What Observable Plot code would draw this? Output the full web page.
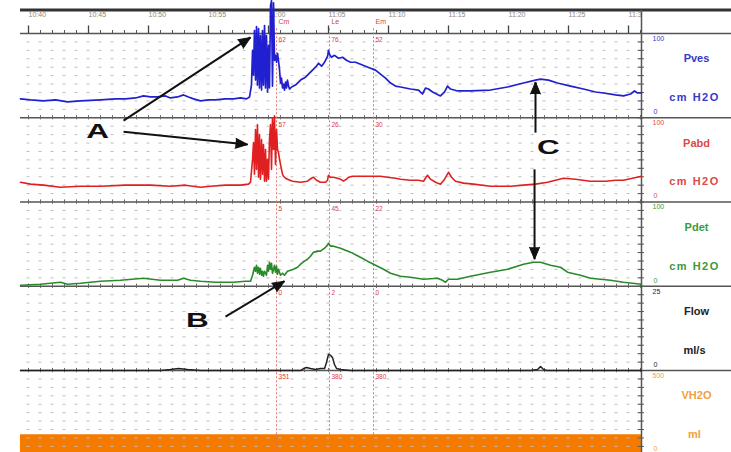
<!DOCTYPE html>
<html>
<head>
<meta charset="utf-8">
<script src="https://cdn.jsdelivr.net/npm/d3@7"></script>
<script src="https://cdn.jsdelivr.net/npm/@observablehq/plot@0.6"></script>
<style>
  html, body { margin: 0; padding: 0; background: #fff; }
  #chart svg { display: block; }
</style>
</head>
<body>
<div id="chart"></div>
<script>
// ---------------- DATA ----------------
// time axis (minutes after 10:00)
const tickTimes  = [40, 45, 50, 55, 60, 65, 70, 75, 80, 85, 90];
const tickLabels = ["10:40", "10:45", "10:50", "10:55", "11:00", "11:05", "11:10", "11:15", "11:20", "11:25", "11:30"];

// channels
const channelNames = ["Pves", "Pabd", "Pdet", "Flow", "VH2O"];
const channelUnits = ["cm H2O", "cm H2O", "cm H2O", "ml/s", "ml"];
const channelMax   = ["100", "100", "100", "25", "500"];
const channelMin   = ["0", "0", "0", "0", "0"];

// event markers
const markerNames = ["Cm", "Le", "Em"];
const markerTimes = [60.67, 65.08, 68.75];
const markerValuesPves = ["62", "76", "52"];
const markerValuesPabd = ["57", "26", "30"];
const markerValuesPdet = ["5", "45", "22"];
const markerValuesFlow = ["0", "2", "0"];
const markerValuesVH2O = ["351", "380", "380"];

// Pves (cm H2O)
const pvesTime = [39.33,40.17,41.25,42.25,43.25,44.33,46.00,47.25,48.08,48.92,49.58,50.17,50.75,51.42,51.83,52.42,52.92,53.33,53.75,54.33,55.00,55.58,56.42,57.08,57.67,58.17,58.42,58.58,58.67,58.75,58.83,58.92,59.00,59.08,59.17,59.25,59.33,59.42,59.50,59.58,59.67,59.75,59.83,59.92,60.00,60.08,60.17,60.25,60.33,60.42,60.50,60.58,60.67,60.75,60.83,60.92,61.00,61.08,61.17,61.25,61.33,61.42,61.50,61.58,61.67,61.75,61.92,62.25,62.67,63.08,63.50,63.92,64.17,64.42,64.67,64.92,65.00,65.08,65.25,65.50,65.83,66.17,66.50,66.83,67.25,67.67,68.08,68.50,68.92,69.33,69.75,70.17,70.58,71.00,71.83,72.50,72.83,73.08,73.33,73.67,74.00,74.33,74.67,74.92,75.17,75.75,76.83,78.50,79.92,81.25,82.25,82.67,83.33,84.08,85.17,86.25,87.25,87.92,88.92,89.58,90.17,90.50,90.75,91.08];
const pvesValue = [22.4,21.2,20.0,21.2,18.8,20.0,21.2,22.4,22.4,23.5,25.9,24.7,24.7,25.9,23.5,24.7,27.1,24.7,22.4,20.0,21.2,21.2,22.4,22.4,23.5,22.4,24.7,38.8,80.0,50.6,103.5,44.7,108.2,38.8,105.9,35.3,97.6,32.9,103.5,38.8,109.4,35.3,97.6,30.6,85.9,35.3,132.9,138.8,37.6,136.5,68.2,74.1,65.9,76.5,68.2,56.5,41.2,47.1,35.3,40.0,32.9,42.4,35.3,44.7,37.6,34.1,36.5,38.8,44.7,48.2,54.1,60.0,64.7,61.2,65.9,72.9,80.0,75.3,71.8,74.1,70.6,71.8,68.2,65.9,65.9,63.5,61.2,58.8,56.5,51.8,47.1,41.2,37.6,36.5,34.1,32.9,28.2,35.3,34.1,30.6,28.2,25.9,30.6,37.6,34.1,31.8,31.8,32.9,36.5,41.2,44.7,45.9,44.7,41.2,37.6,34.1,30.6,29.4,27.1,25.9,28.2,31.8,29.4,29.4];

// Pabd (cm H2O)
const pabdTime = [39.33,40.17,41.25,42.67,44.33,46.00,48.08,50.17,51.83,53.08,54.33,55.17,56.42,57.67,58.33,58.50,58.67,58.75,58.83,58.92,59.00,59.08,59.17,59.25,59.33,59.42,59.50,59.58,59.67,59.75,59.83,59.92,60.00,60.08,60.17,60.25,60.33,60.42,60.50,60.58,60.67,60.75,60.83,60.92,61.00,61.17,61.25,61.42,61.58,62.00,62.67,63.25,63.58,63.75,64.00,64.33,64.75,64.92,65.00,65.17,65.42,65.75,66.00,66.25,66.50,66.67,67.00,67.42,68.08,68.75,69.33,69.92,70.58,71.00,71.83,72.50,72.92,73.08,73.25,73.50,73.92,74.33,74.67,75.00,75.25,75.58,76.25,77.08,78.50,80.17,81.25,82.25,83.25,83.92,84.58,85.58,86.83,88.08,88.92,89.58,90.33,91.08];
const pabdValue = [23.5,21.2,20.0,17.6,18.8,18.8,20.0,20.0,18.8,20.0,17.6,18.8,20.0,20.0,21.2,23.5,50.6,70.6,32.9,85.9,38.8,91.8,29.4,80.0,27.1,74.1,32.9,68.2,24.7,62.4,24.7,50.6,27.1,74.1,91.8,38.8,100.0,62.4,102.4,44.7,85.9,62.4,58.8,50.6,44.7,32.9,30.6,28.2,27.1,24.7,23.5,24.7,28.2,29.4,25.9,23.5,23.5,25.9,31.8,29.4,29.4,28.2,27.1,24.7,27.1,29.4,30.6,30.6,30.6,30.6,30.6,29.4,28.2,27.1,25.9,25.9,24.7,28.2,31.8,27.1,23.5,21.2,27.1,35.3,29.4,24.7,22.4,21.2,18.8,18.8,20.0,21.2,23.5,25.9,28.2,27.1,24.7,24.7,25.9,25.9,28.2,30.6];

// Pdet (cm H2O)
const pdetTime = [39.33,41.00,42.67,43.25,44.33,46.00,47.67,49.58,51.00,52.42,52.92,53.50,54.33,55.58,57.08,58.08,58.50,58.67,58.83,58.92,59.00,59.08,59.17,59.25,59.33,59.42,59.50,59.58,59.67,59.83,59.92,60.00,60.08,60.17,60.25,60.33,60.42,60.50,60.58,60.67,60.75,60.83,61.00,61.17,61.33,61.58,61.83,62.08,62.42,62.67,63.00,63.25,63.50,63.75,64.08,64.33,64.67,64.92,65.00,65.17,65.42,66.00,66.83,67.50,68.25,68.92,69.58,70.17,71.00,71.83,72.92,74.08,74.50,74.75,75.00,75.75,76.83,78.50,79.92,81.25,82.08,82.67,83.50,84.33,84.92,86.00,86.83,88.50,89.58,90.33,91.08];
const pdetValue = [1.2,2.4,4.8,2.4,3.6,6.0,7.1,9.5,7.1,7.1,9.5,7.1,6.0,4.8,4.8,6.0,6.0,13.1,22.6,17.9,25.0,15.5,22.6,14.3,21.4,13.1,17.9,11.9,17.9,13.1,25.0,17.9,28.6,20.2,27.4,15.5,20.2,25.0,16.7,23.8,14.3,20.2,13.1,15.5,13.1,17.9,19.0,20.2,22.6,26.2,29.8,32.1,35.7,40.5,41.7,41.7,45.2,48.8,51.2,47.6,47.6,45.2,40.5,35.7,29.8,25.0,20.2,15.5,11.9,10.7,8.3,9.5,7.1,4.8,8.3,8.3,11.9,16.7,20.2,26.2,28.6,28.6,25.0,22.6,16.7,13.1,9.5,7.1,4.8,3.6,2.4];

// Flow (ml/s)
const flowTime  = [39.33,51.00,51.83,52.50,53.25,54.33,62.67,62.92,63.17,63.50,63.92,64.33,64.67,64.83,65.00,65.17,65.33,65.50,65.67,66.00,66.83,81.83,82.42,82.67,82.92,83.17,91.08];
const flowValue = [0,0,0.3,0.6,0.3,0,0,0.6,0.9,0.6,0.3,0.6,0.6,2.4,4.8,4.5,3.9,1.8,0.6,0.3,0,0,0.3,1.2,0.3,0,0];

// VH2O (ml)
const vh2oTime  = [39.33, 50.00, 60.00, 70.00, 80.00, 91.08];
const vh2oValue = [119, 119, 119, 119, 119, 119];

// annotations (letters and arrows, in time / stacked-channel units)
const letterText = ["A", "B", "C"];
const letterTime = [45.75, 54.08, 83.33];
const letterPos  = [376.5, 151.8, 356.5];
const arrowTime1 = [47.92, 47.92, 56.42, 82.25, 82.17];
const arrowPos1  = [396.5, 383.5, 163.9, 382.4, 338.8];
const arrowTime2 = [58.50, 58.25, 61.33, 82.25, 82.17];
const arrowPos2  = [495.3, 368.2, 206.0, 442.4, 232.1];

// ---------------- LAYOUT ----------------
const W = 731, H = 452;
const xOpts = {type: "linear", domain: [39.333, 91.083], range: [20, 641]};
const yOpts = {type: "linear", domain: [0, 500], range: [454.3, 33]};
const T0 = 39.333, T1 = 91.083, TFAR = 98.7;
const TOPBAR = 527.8, TIMELABEL_Y = 522.5, MARKERLABEL_Y = 513.6;
const bases = [400, 300, 200, 100, 0];
const factors = [1, 1, 1, 4, 0.2];
const labelColors = ["#3838c8", "#e04848", "#3a9a3a", "#222222", "#f0a040"];
const FONT = "'Liberation Sans', Arial, sans-serif";

const xs = Plot.scale({x: xOpts});
const ys = Plot.scale({y: yOpts});

function series(ts, vs, ch) {
  return ts.map((t, i) => ({t, y: bases[ch] + vs[i] * factors[ch]}));
}
const pves = series(pvesTime, pvesValue, 0);
const pabd = series(pabdTime, pabdValue, 1);
const pdet = series(pdetTime, pdetValue, 2);
const flow = series(flowTime, flowValue, 3);
const vh2o = series(vh2oTime, vh2oValue, 4);

// grid
const gridYs = [];
for (const b of bases) for (let i = 1; i < 10; i++) gridYs.push(b + 10 * i);
const minutes = d3.range(40, 92);
const boundaryTicks = [];
for (const b of [100, 200, 300, 400]) for (const m of minutes) boundaryTicks.push({t: m, b});
const rightTicks = d3.range(0, 501, 10);

// marker value labels
const markerRows = [markerValuesPves, markerValuesPabd, markerValuesPdet, markerValuesFlow, markerValuesVH2O];
const markerValueLabels = [];
markerRows.forEach((row, ch) => row.forEach((txt, j) =>
  markerValueLabels.push({t: markerTimes[j], y: bases[ch] + 92, text: txt})));

// channel labels
const chan = channelNames.map((name, i) => ({
  name, unit: channelUnits[i], max: channelMax[i], min: channelMin[i], base: bases[i], color: labelColors[i]
}));

// arrows
const arrows = arrowTime1.map((t1, i) => {
  const X1 = xs.apply(t1), Y1 = ys.apply(arrowPos1[i]);
  const X2 = xs.apply(arrowTime2[i]), Y2 = ys.apply(arrowPos2[i]);
  const angle = Math.atan2(X2 - X1, -(Y2 - Y1)) * 180 / Math.PI;
  return {t1, y1: arrowPos1[i], t2: arrowTime2[i], y2: arrowPos2[i], angle};
});
const letters = letterText.map((text, i) => ({text, t: letterTime[i], y: letterPos[i]}));

const plot = Plot.plot({
  width: W, height: H,
  marginLeft: 20, marginRight: 90, marginTop: 0, marginBottom: 0,
  x: {...xOpts, axis: null},
  y: {...yOpts, axis: null},
  style: {fontFamily: FONT, background: "#fff", overflow: "hidden"},
  marks: [
    // volume fill
    Plot.areaY(vh2o, {x: "t", y1: 0, y2: "y", fill: "#f47b00"}),
    // dotted grid
    Plot.ruleY(gridYs, {x1: T0, x2: T1, stroke: "#bdbdbd", strokeWidth: 1, strokeDasharray: "3,9", strokeDashoffset: 5.5}),
    // channel boundaries
    Plot.ruleY([100, 200, 300, 400, 500], {x1: T0, x2: TFAR, stroke: "#555", strokeWidth: 1.5}),
    Plot.ruleX(boundaryTicks, {x: "t", y1: d => d.b - 2.5, y2: d => d.b + 2.5, stroke: "#666", strokeWidth: 1}),
    // top time axis ticks
    Plot.ruleX(minutes, {y1: 500, y2: 503.5, stroke: "#555", strokeWidth: 1}),
    Plot.ruleX(tickTimes, {y1: 500, y2: 509, stroke: "#444", strokeWidth: 1.3}),
    // top bar
    Plot.ruleY([TOPBAR], {x1: T0, x2: TFAR, stroke: "#333", strokeWidth: 3}),
    // right axis
    Plot.ruleX([T1], {y1: 0, y2: TOPBAR, stroke: "#555", strokeWidth: 1.5}),
    Plot.ruleY(rightTicks, {x1: 90.8, x2: 91.33, stroke: "#555", strokeWidth: 1}),
    // time labels
    Plot.text(tickLabels, {x: (d, i) => tickTimes[i], y: TIMELABEL_Y, text: d => d, textAnchor: "start", fontSize: 7, fill: "#888", clip: true}),
    // event markers
    Plot.ruleX(markerTimes, {y1: 0, y2: 507, stroke: "#e07070", strokeWidth: 1, strokeDasharray: "2,2"}),
    Plot.text(markerNames, {x: (d, i) => markerTimes[i], y: MARKERLABEL_Y, text: d => d, dx: 2, textAnchor: "start", fontSize: 7, fill: "#e04040"}),
    Plot.text(markerValueLabels, {x: "t", y: "y", text: "text", dx: 2, textAnchor: "start", fontSize: 6.5, fill: "#e04040"}),
    // traces
    Plot.line(flow, {x: "t", y: "y", stroke: "#222", strokeWidth: 1.5}),
    Plot.line(pdet, {x: "t", y: "y", stroke: "#2a8a2a", strokeWidth: 1.6}),
    Plot.line(pabd, {x: "t", y: "y", stroke: "#e02020", strokeWidth: 1.6}),
    Plot.line(pves, {x: "t", y: "y", stroke: "#2020d0", strokeWidth: 1.7}),
    // channel labels
    Plot.text(chan, {x: T1, y: d => d.base + 70, text: "name", fill: "color", dx: 55, fontSize: 11, fontWeight: "bold"}),
    Plot.text(chan, {x: T1, y: d => d.base + 24, text: "unit", fill: "color", dx: 53, fontSize: 11, fontWeight: "bold"}),
    Plot.text(chan, {x: T1, y: d => d.base + 94, text: "max", fill: "color", dx: 11, textAnchor: "start", fontSize: 7}),
    Plot.text(chan, {x: T1, y: d => d.base + 7, text: "min", fill: "color", dx: 12, textAnchor: "start", fontSize: 7}),
    // annotations
    Plot.link(arrows, {x1: "t1", y1: "y1", x2: "t2", y2: "y2", stroke: "#111", strokeWidth: 2}),
    Plot.vector(arrows, {x: "t2", y: "y2", rotate: "angle", length: 12, anchor: "end", shape: "spike", r: 5, fill: "#111", stroke: "#111", strokeWidth: 1}),
    Plot.text(letters, {x: "t", y: "y", text: "text", fontSize: 21, fontWeight: "bold", fill: "#111"})
  ]
});

// stretch annotation letters horizontally like the reference
d3.select(plot).selectAll("text").each(function () {
  if (!letterText.includes(this.textContent)) return;
  const x = +this.getAttribute("x") || 0, y = +this.getAttribute("y") || 0;
  const tr = this.getAttribute("transform") || "";
  this.setAttribute("x", 0); this.setAttribute("y", 0);
  this.setAttribute("transform", `${tr} translate(${x},${y}) scale(1.5,1)`);
});
// letter spacing for unit labels
d3.select(plot).selectAll("text").each(function () {
  if (this.textContent === "cm H2O") this.setAttribute("letter-spacing", "1.5");
});

document.getElementById("chart").appendChild(plot);
</script>
</body>
</html>
